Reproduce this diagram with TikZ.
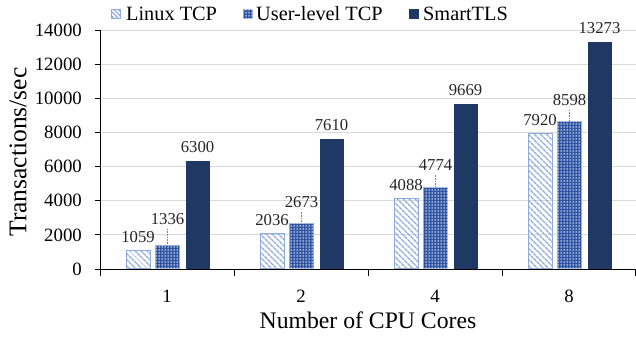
\documentclass[tikz,border=0pt]{standalone}
\usepackage{fontspec}
\setmainfont{Liberation Serif}
\usetikzlibrary{patterns,patterns.meta}
\definecolor{navy}{HTML}{203864}
\definecolor{lblue}{HTML}{8FAADC}
\definecolor{ublue}{HTML}{2F55A4}
\definecolor{gridc}{HTML}{D9D9D9}
\begin{document}
\begin{tikzpicture}[x=1pt,y=1pt,
  linuxbar/.style={draw=lblue, line width=0.8pt, inner sep=0pt, anchor=south, minimum width=24pt,
     pattern={Lines[angle=-45,distance=4pt,line width=1.5pt]}, pattern color=lblue},
  userbar/.style={draw=lblue, line width=0.8pt, fill=ublue, inner sep=0pt, anchor=south, minimum width=24pt,
     postaction={pattern={Dots[distance=3pt,radius=0.75pt]}, pattern color=white}},
  smartbar/.style={fill=navy, inner sep=0pt, anchor=south, minimum width=24pt},
  vallab/.style={font=\fontsize{16.7}{18}\selectfont, inner sep=0pt, text=black!85},
  ticklab/.style={font=\fontsize{18.8}{20}\selectfont, inner sep=0pt},
  leglab/.style={font=\fontsize{20.3}{22}\selectfont, inner sep=0pt, anchor=west},
  leader/.style={densely dotted, gray, line width=0.6pt},
  gridline/.style={gridc, line width=0.8pt},
  axisline/.style={black, line width=0.9pt}
]
\useasboundingbox (0,0) rectangle (636,337);
% grid
\foreach \k in {1,...,7} {
  \draw[gridline] (100,{68+\k*34.1429}) -- (636,{68+\k*34.1429});
}
% y tick labels and ticks
\foreach \k in {0,...,7} {
  \pgfmathtruncatemacro{\val}{\k*2000}
  \node[ticklab, anchor=east] (yt\k) at (82,{68+\k*34.1429}) {\val};
  \draw[axisline] (95,{68+\k*34.1429}) -- (100,{68+\k*34.1429});
}
% bars
\foreach \c/\k/\a/\b/\s/\uo [count=\i] in {167/1/1059/1336/6300/27, 301/2/2036/2673/7610/21.5, 435/4/4088/4774/9669/22.5, 569/8/7920/8598/13273/22} {
  \node[linuxbar, minimum height={\a*0.017071}] (l\i) at (\c-29,68) {};
  \node[userbar, minimum height={\b*0.017071}] (u\i) at (\c+0.5,68) {};
  \node[smartbar, minimum height={\s*0.017071}] (s\i) at (\c+30.5,68) {};
  \node[vallab] (la\i) at (\c-29,{68+\a*0.017071+14}) {\a};
  \node[vallab] (ua\i) at (\c+0.5,{68+\b*0.017071+\uo}) {\b};
  \node[vallab] (sa\i) at (\c+30.5,{68+\s*0.017071+14}) {\s};
  \draw[leader, shorten <=4pt] (ua\i.south) -- (u\i.north);
  \node[ticklab] (xc\i) at (\c,41) {\k};
}
% axes
\draw[axisline] (100,68) -- (100,307);
\draw[axisline] (100,68) -- (636,68);
\foreach \t in {100,234,368,502,635.5} {
  \draw[axisline] (\t,68) -- (\t,61);
}
% axis titles
\node[font=\fontsize{23.7}{25}\selectfont, inner sep=0pt] (xtitle) at (368,17) {Number of CPU Cores};
\node[font=\fontsize{25.5}{27}\selectfont, inner sep=0pt, rotate=90] (ytitle) at (18,185) {Transactions/sec};
% legend
\node[linuxbar, anchor=center, minimum width=9pt, minimum height=9pt, line width=0.6pt,
  pattern={Lines[angle=-45,distance=3pt,line width=1.1pt]}] (lk1) at (116,323) {};
\node[leglab] (lt1) at (126,323) {Linux TCP};
\node[userbar, anchor=center, minimum width=9pt, minimum height=9pt, line width=0.6pt] (lk2) at (248,323) {};
\node[leglab] (lt2) at (256,323) {User-level TCP};
\node[smartbar, anchor=center, minimum width=10pt, minimum height=10pt] (lk3) at (414,323) {};
\node[leglab] (lt3) at (423,323) {SmartTLS};
\end{tikzpicture}
\end{document}
